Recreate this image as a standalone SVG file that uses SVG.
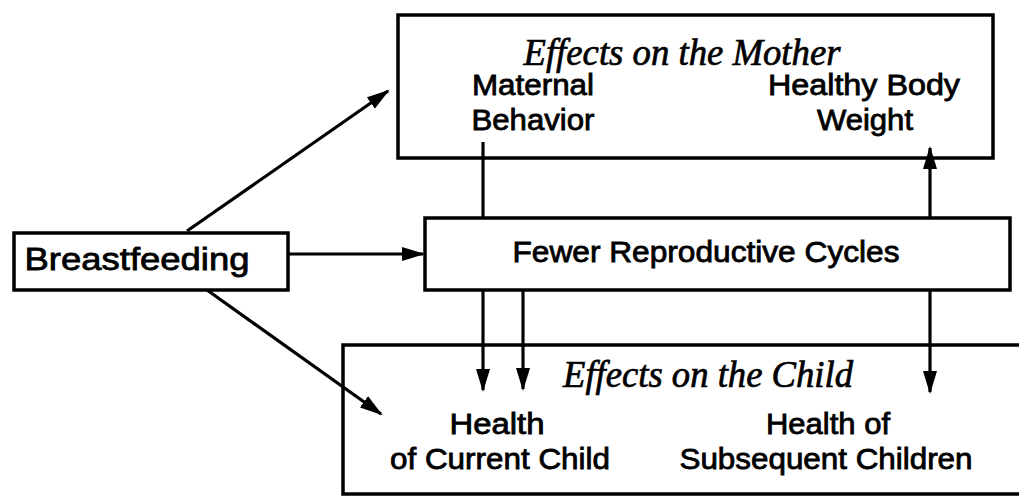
<svg xmlns="http://www.w3.org/2000/svg" width="1019" height="497" viewBox="0 0 1019 497">
<defs>
<marker id="ah" markerUnits="userSpaceOnUse" markerWidth="24" markerHeight="15" refX="21" refY="7" orient="auto">
<path d="M0,0 L23,7 L0,14 z" fill="#000"/>
</marker>
<style>
.box{fill:none;stroke:#000;stroke-width:3.5}
.wbox{fill:#fff;stroke:#000;stroke-width:3.5}
.sans{font-family:"Liberation Sans",Arial,sans-serif;font-size:29px;fill:#000;stroke:#000;stroke-width:0.8;text-anchor:middle}
.ital{font-family:"Liberation Serif","Times New Roman",serif;font-style:italic;font-size:38px;fill:#000;stroke:#000;stroke-width:0.7;text-anchor:middle}
.con{fill:none;stroke:#000;stroke-width:3.2;marker-end:url(#ah)}
</style>
</defs>
<rect width="1019" height="497" fill="#fff"/>
<g id="mother">
<rect class="box" x="398" y="15" width="595" height="143"/>
<text class="ital" x="682" y="65" textLength="317" lengthAdjust="spacingAndGlyphs">Effects on the Mother</text>
<text class="sans" x="533" y="95" textLength="122" lengthAdjust="spacingAndGlyphs">Maternal</text>
<text class="sans" x="533" y="130" textLength="123" lengthAdjust="spacingAndGlyphs">Behavior</text>
<text class="sans" x="864" y="95" textLength="192" lengthAdjust="spacingAndGlyphs">Healthy Body</text>
<text class="sans" x="865" y="130" textLength="96" lengthAdjust="spacingAndGlyphs">Weight</text>
</g>
<g id="child">
<rect class="box" x="343" y="345" width="700" height="149"/>
<text class="ital" x="708" y="387" textLength="290" lengthAdjust="spacingAndGlyphs">Effects on the Child</text>
<text class="sans" x="497" y="434" textLength="95" lengthAdjust="spacingAndGlyphs">Health</text>
<text class="sans" x="500" y="469" textLength="220" lengthAdjust="spacingAndGlyphs">of Current Child</text>
<text class="sans" x="828" y="434" textLength="124" lengthAdjust="spacingAndGlyphs">Health of</text>
<text class="sans" x="826" y="469" textLength="293" lengthAdjust="spacingAndGlyphs">Subsequent Children</text>
</g>
<g id="connectors">
<path class="con" d="M187,231 L388,91"/>
<path class="con" d="M289,254 L423,254"/>
<path class="con" d="M207,290 L381,414"/>
<path class="con" d="M483,142 L483,390"/>
<path class="con" d="M523,290 L523,389"/>
<path class="con" d="M930,218 L930,148"/>
<path class="con" d="M930,290 L930,392"/>
</g>
<g id="fewer">
<rect class="wbox" x="425" y="218" width="585" height="72"/>
<text class="sans" x="706" y="262" textLength="387" lengthAdjust="spacingAndGlyphs">Fewer Reproductive Cycles</text>
</g>
<g id="breastfeeding">
<rect class="wbox" x="14" y="233" width="274" height="57"/>
<text class="sans" x="137" y="270" style="font-size:32px" textLength="225" lengthAdjust="spacingAndGlyphs">Breastfeeding</text>
</g>
</svg>
